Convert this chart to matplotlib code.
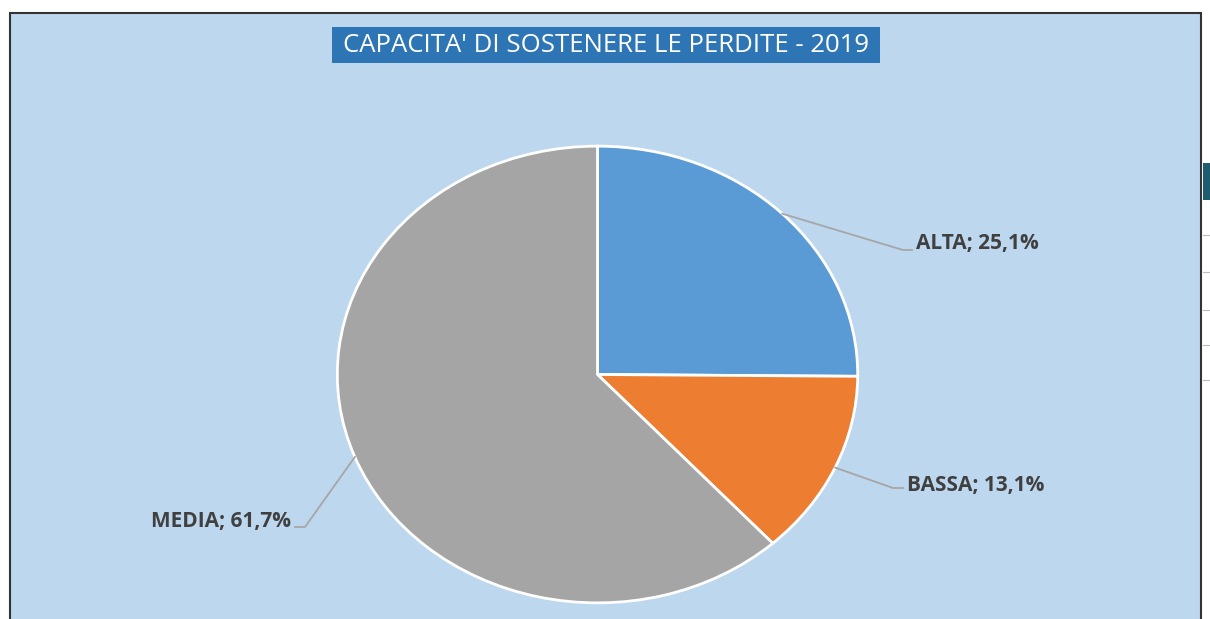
import numpy as np
import matplotlib
matplotlib.use("Agg")
import matplotlib.pyplot as plt
from matplotlib.patches import Rectangle
from matplotlib.lines import Line2D

# ---- data ----
title = "CAPACITA' DI SOSTENERE LE PERDITE - 2019"
categories = ["ALTA", "BASSA", "MEDIA"]
values = [25.1, 13.1, 61.7]
labels = ["ALTA; 25,1%", "BASSA; 13,1%", "MEDIA; 61,7%"]
colors = ["#5B9BD5", "#ED7D31", "#A5A5A5"]

W, H = 1210, 619
fig = plt.figure(figsize=(W / 100, H / 100), dpi=100)
fig.patch.set_facecolor("white")

def px(x, y):
    return (x / W, 1 - y / H)

# panel background (extends past bottom edge so no bottom border shows)
panel = Rectangle(px(10, H + 10), (1201 - 10) / W, (H + 10 - 13) / H, transform=fig.transFigure,
                  facecolor="#BDD7EE", edgecolor="#333333", linewidth=1.5, zorder=-2)
fig.patches.append(panel)

# right side artifacts (table behind)
fig.patches.append(Rectangle(px(1203, 200), 7 / W, 37 / H, transform=fig.transFigure,
                             facecolor="#1F5C70", edgecolor="none", zorder=-2))
for yy in [235, 272, 310, 345, 380]:
    fig.lines.append(Line2D([1203 / W, 1.0], [1 - yy / H] * 2, transform=fig.transFigure,
                            color="#BBBBBB", linewidth=0.8, zorder=-2))

# title
fig.patches.append(Rectangle(px(332, 63), (880 - 332) / W, 36 / H, transform=fig.transFigure,
                             facecolor="#2E75B6", edgecolor="none", zorder=1))
fig.text(*px(606, 45), title, ha="center", va="center", color="white",
         fontsize=18.5, family="Open Sans", zorder=2)

# pie axes (elliptical)
cx0, cy0 = 336, 145
cx1, cy1 = 859, 604
ax = fig.add_axes([cx0 / W, 1 - cy1 / H, (cx1 - cx0) / W, (cy1 - cy0) / H])
ax.patch.set_alpha(0)
wedges, _ = ax.pie(values, colors=colors, startangle=90, counterclock=False,
                   wedgeprops=dict(edgecolor="white", linewidth=2))
ax.set_aspect("auto")
ax.set_xlim(-1.005, 1.005)
ax.set_ylim(-1.005, 1.005)
ax.axis("off")

# leader lines + labels
fig.canvas.draw()
inv = fig.transFigure.inverted()
elbows = [((903, 250), (912, 250), (916, 244), "left"),
          ((893, 488), (903, 488), (907, 486), "left"),
          ((305, 527), (295, 527), (291, 521), "right")]
for w, lab, (e1, e2, tp, ha) in zip(wedges, labels, elbows):
    ang = np.deg2rad((w.theta1 + w.theta2) / 2)
    start = inv.transform(ax.transData.transform((np.cos(ang), np.sin(ang))))
    p1 = px(*e1)
    p2 = px(*e2)
    fig.lines.append(Line2D([start[0], p1[0], p2[0]], [start[1], p1[1], p2[1]],
                            transform=fig.transFigure, color="#A6A6A6", linewidth=1.3))
    fig.text(*px(*tp), lab, ha=ha, va="center", color="#404040", fontsize=15,
             fontweight="bold", family="Open Sans")

fig.savefig("out.png", dpi=100)
